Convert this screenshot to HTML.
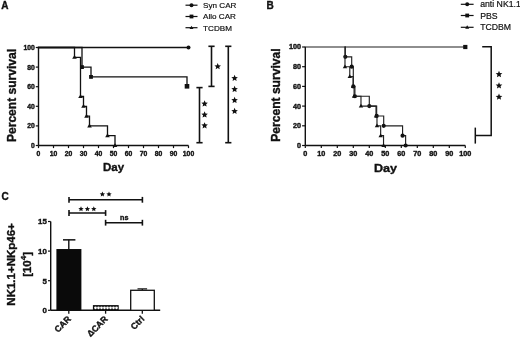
<!DOCTYPE html>
<html><head><meta charset="utf-8"><style>
html,body{margin:0;padding:0;background:#fff;}
body{width:520px;height:338px;overflow:hidden;}
svg{display:block;filter:blur(0.3px);}
text{font-family:"Liberation Sans", sans-serif;fill:#111;stroke:#111;stroke-width:0.36px;} text[font-weight=normal]{stroke-width:0.2px;}
</style></head><body>
<svg width="520" height="338" viewBox="0 0 520 338">
<rect width="520" height="338" fill="#fff"/>
<line x1="38.5" y1="145.5" x2="188.5" y2="145.5" stroke="#111" stroke-width="1.4"/>
<line x1="38.5" y1="145.5" x2="38.5" y2="47.5" stroke="#111" stroke-width="1.4"/>
<line x1="35.8" y1="145.5" x2="38.5" y2="145.5" stroke="#111" stroke-width="1.2"/>
<text font-size="6.8" font-weight="bold" text-anchor="end" transform="translate(34.8,147.9) scale(1.0,1)">0</text>
<line x1="35.8" y1="125.9" x2="38.5" y2="125.9" stroke="#111" stroke-width="1.2"/>
<text font-size="6.8" font-weight="bold" text-anchor="end" transform="translate(34.8,128.3) scale(1.0,1)">20</text>
<line x1="35.8" y1="106.3" x2="38.5" y2="106.3" stroke="#111" stroke-width="1.2"/>
<text font-size="6.8" font-weight="bold" text-anchor="end" transform="translate(34.8,108.7) scale(1.0,1)">40</text>
<line x1="35.8" y1="86.7" x2="38.5" y2="86.7" stroke="#111" stroke-width="1.2"/>
<text font-size="6.8" font-weight="bold" text-anchor="end" transform="translate(34.8,89.1) scale(1.0,1)">60</text>
<line x1="35.8" y1="67.1" x2="38.5" y2="67.1" stroke="#111" stroke-width="1.2"/>
<text font-size="6.8" font-weight="bold" text-anchor="end" transform="translate(34.8,69.5) scale(1.0,1)">80</text>
<line x1="35.8" y1="47.5" x2="38.5" y2="47.5" stroke="#111" stroke-width="1.2"/>
<text font-size="6.8" font-weight="bold" text-anchor="end" transform="translate(34.8,49.9) scale(1.0,1)">100</text>
<line x1="38.5" y1="145.5" x2="38.5" y2="148.1" stroke="#111" stroke-width="1.2"/>
<text font-size="6.8" font-weight="bold" text-anchor="middle" transform="translate(38.5,155.6) scale(1.0,1)">0</text>
<line x1="53.5" y1="145.5" x2="53.5" y2="148.1" stroke="#111" stroke-width="1.2"/>
<text font-size="6.8" font-weight="bold" text-anchor="middle" transform="translate(53.5,155.6) scale(1.0,1)">10</text>
<line x1="68.5" y1="145.5" x2="68.5" y2="148.1" stroke="#111" stroke-width="1.2"/>
<text font-size="6.8" font-weight="bold" text-anchor="middle" transform="translate(68.5,155.6) scale(1.0,1)">20</text>
<line x1="83.5" y1="145.5" x2="83.5" y2="148.1" stroke="#111" stroke-width="1.2"/>
<text font-size="6.8" font-weight="bold" text-anchor="middle" transform="translate(83.5,155.6) scale(1.0,1)">30</text>
<line x1="98.5" y1="145.5" x2="98.5" y2="148.1" stroke="#111" stroke-width="1.2"/>
<text font-size="6.8" font-weight="bold" text-anchor="middle" transform="translate(98.5,155.6) scale(1.0,1)">40</text>
<line x1="113.5" y1="145.5" x2="113.5" y2="148.1" stroke="#111" stroke-width="1.2"/>
<text font-size="6.8" font-weight="bold" text-anchor="middle" transform="translate(113.5,155.6) scale(1.0,1)">50</text>
<line x1="128.5" y1="145.5" x2="128.5" y2="148.1" stroke="#111" stroke-width="1.2"/>
<text font-size="6.8" font-weight="bold" text-anchor="middle" transform="translate(128.5,155.6) scale(1.0,1)">60</text>
<line x1="143.5" y1="145.5" x2="143.5" y2="148.1" stroke="#111" stroke-width="1.2"/>
<text font-size="6.8" font-weight="bold" text-anchor="middle" transform="translate(143.5,155.6) scale(1.0,1)">70</text>
<line x1="158.5" y1="145.5" x2="158.5" y2="148.1" stroke="#111" stroke-width="1.2"/>
<text font-size="6.8" font-weight="bold" text-anchor="middle" transform="translate(158.5,155.6) scale(1.0,1)">80</text>
<line x1="173.5" y1="145.5" x2="173.5" y2="148.1" stroke="#111" stroke-width="1.2"/>
<text font-size="6.8" font-weight="bold" text-anchor="middle" transform="translate(173.5,155.6) scale(1.0,1)">90</text>
<line x1="188.5" y1="145.5" x2="188.5" y2="148.1" stroke="#111" stroke-width="1.2"/>
<text font-size="6.8" font-weight="bold" text-anchor="middle" transform="translate(188.5,155.6) scale(1.0,1)">100</text>
<polyline points="38.5,47.5 188.5,47.5" fill="none" stroke="#111" stroke-width="1.3" stroke-linejoin="miter" stroke-linecap="square"/>
<circle cx="188.5" cy="47.5" r="2.0" fill="#111"/>
<polyline points="38.5,47.5 82,47.5 82,67.1 91,67.1 91,76.9 187,76.9 187,86.7" fill="none" stroke="#111" stroke-width="1.3" stroke-linejoin="miter" stroke-linecap="square"/>
<rect x="80.1" y="65.2" width="3.8" height="3.8" fill="#111"/>
<rect x="89.1" y="75" width="3.8" height="3.8" fill="#111"/>
<rect x="184.7" y="84" width="4.6" height="4.6" fill="#111"/>
<polyline points="38.5,47.5 74.5,47.5 74.5,57.3 80.5,57.3 80.5,96.5 83.5,96.5 83.5,106.3 86.5,106.3 86.5,116.1 89.5,116.1 89.5,125.9 107.5,125.9 107.5,135.7 115,135.7 115,145.5" fill="none" stroke="#111" stroke-width="1.3" stroke-linejoin="miter" stroke-linecap="square"/>
<polygon points="74.5,54.95 72.2,58.86 76.8,58.86" fill="#111"/>
<polygon points="80.5,94.15 78.2,98.06 82.8,98.06" fill="#111"/>
<polygon points="83.5,103.95 81.2,107.86 85.8,107.86" fill="#111"/>
<polygon points="86.5,113.75 84.2,117.66 88.8,117.66" fill="#111"/>
<polygon points="89.5,123.55 87.2,127.46 91.8,127.46" fill="#111"/>
<polygon points="107.5,133.35 105.2,137.26 109.8,137.26" fill="#111"/>
<polygon points="115,143.15 112.7,147.06 117.3,147.06" fill="#111"/>
<text x="113.5" y="170.8" font-size="11.5" font-weight="bold" text-anchor="middle" >Day</text>
<text x="0" y="0" font-size="12.05" font-weight="bold" text-anchor="middle" transform="translate(16.3,95.5) rotate(-90)">Percent survival</text>
<text x="1.2" y="8.6" font-size="10" font-weight="bold" text-anchor="start" >A</text>
<line x1="185.5" y1="5.2" x2="197.5" y2="5.2" stroke="#111" stroke-width="1.2"/>
<circle cx="191.5" cy="5.2" r="2.0" fill="#111"/>
<text x="203.1" y="8.1" font-size="8.1" font-weight="normal" text-anchor="start" >Syn CAR</text>
<line x1="185.5" y1="16.5" x2="197.5" y2="16.5" stroke="#111" stroke-width="1.2"/>
<rect x="189.6" y="14.6" width="3.8" height="3.8" fill="#111"/>
<text x="203.1" y="19.4" font-size="8.1" font-weight="normal" text-anchor="start" >Allo CAR</text>
<line x1="185.5" y1="27.7" x2="197.5" y2="27.7" stroke="#111" stroke-width="1.2"/>
<polygon points="191.5,25.66 189.5,29.06 193.5,29.06" fill="#111"/>
<text x="203.1" y="30.6" font-size="8.1" font-weight="normal" text-anchor="start" >TCDBM</text>
<line x1="211.5" y1="46.3" x2="211.5" y2="86.4" stroke="#111" stroke-width="1.6"/>
<line x1="208.4" y1="46.3" x2="214.6" y2="46.3" stroke="#111" stroke-width="1.6"/>
<line x1="208.4" y1="86.4" x2="214.6" y2="86.4" stroke="#111" stroke-width="1.6"/>
<polygon points="217.7,63.05 218.63,65.22 220.98,65.43 219.21,66.99 219.73,69.29 217.7,68.09 215.67,69.29 216.19,66.99 214.42,65.43 216.77,65.22" fill="#111"/>
<line x1="228.3" y1="46.3" x2="228.3" y2="142.7" stroke="#111" stroke-width="1.6"/>
<line x1="225.2" y1="46.3" x2="231.4" y2="46.3" stroke="#111" stroke-width="1.6"/>
<line x1="225.2" y1="142.7" x2="231.4" y2="142.7" stroke="#111" stroke-width="1.6"/>
<polygon points="234.6,74.75 235.53,76.92 237.88,77.13 236.11,78.69 236.63,80.99 234.6,79.79 232.57,80.99 233.09,78.69 231.32,77.13 233.67,76.92" fill="#111"/>
<polygon points="234.6,85.85 235.53,88.02 237.88,88.23 236.11,89.79 236.63,92.09 234.6,90.89 232.57,92.09 233.09,89.79 231.32,88.23 233.67,88.02" fill="#111"/>
<polygon points="234.6,96.85 235.53,99.02 237.88,99.23 236.11,100.79 236.63,103.09 234.6,101.89 232.57,103.09 233.09,100.79 231.32,99.23 233.67,99.02" fill="#111"/>
<polygon points="234.6,107.75 235.53,109.92 237.88,110.13 236.11,111.69 236.63,113.99 234.6,112.79 232.57,113.99 233.09,111.69 231.32,110.13 233.67,109.92" fill="#111"/>
<line x1="199.5" y1="87.6" x2="199.5" y2="142.7" stroke="#111" stroke-width="1.6"/>
<line x1="196.4" y1="87.6" x2="202.6" y2="87.6" stroke="#111" stroke-width="1.6"/>
<line x1="196.4" y1="142.7" x2="202.6" y2="142.7" stroke="#111" stroke-width="1.6"/>
<polygon points="204.6,100.35 205.53,102.52 207.88,102.73 206.11,104.29 206.63,106.59 204.6,105.39 202.57,106.59 203.09,104.29 201.32,102.73 203.67,102.52" fill="#111"/>
<polygon points="204.6,111.35 205.53,113.52 207.88,113.73 206.11,115.29 206.63,117.59 204.6,116.39 202.57,117.59 203.09,115.29 201.32,113.73 203.67,113.52" fill="#111"/>
<polygon points="204.6,122.15 205.53,124.32 207.88,124.53 206.11,126.09 206.63,128.39 204.6,127.19 202.57,128.39 203.09,126.09 201.32,124.53 203.67,124.32" fill="#111"/>
<line x1="305.3" y1="145.5" x2="465.3" y2="145.5" stroke="#111" stroke-width="1.4"/>
<line x1="305.3" y1="145.5" x2="305.3" y2="47" stroke="#111" stroke-width="1.4"/>
<line x1="302.1" y1="145.5" x2="305.3" y2="145.5" stroke="#111" stroke-width="1.2"/>
<text font-size="6.8" font-weight="bold" text-anchor="end" transform="translate(301,147.9) scale(1.067,1)">0</text>
<line x1="302.1" y1="125.8" x2="305.3" y2="125.8" stroke="#111" stroke-width="1.2"/>
<text font-size="6.8" font-weight="bold" text-anchor="end" transform="translate(301,128.2) scale(1.067,1)">20</text>
<line x1="302.1" y1="106.1" x2="305.3" y2="106.1" stroke="#111" stroke-width="1.2"/>
<text font-size="6.8" font-weight="bold" text-anchor="end" transform="translate(301,108.5) scale(1.067,1)">40</text>
<line x1="302.1" y1="86.4" x2="305.3" y2="86.4" stroke="#111" stroke-width="1.2"/>
<text font-size="6.8" font-weight="bold" text-anchor="end" transform="translate(301,88.8) scale(1.067,1)">60</text>
<line x1="302.1" y1="66.7" x2="305.3" y2="66.7" stroke="#111" stroke-width="1.2"/>
<text font-size="6.8" font-weight="bold" text-anchor="end" transform="translate(301,69.1) scale(1.067,1)">80</text>
<line x1="302.1" y1="47" x2="305.3" y2="47" stroke="#111" stroke-width="1.2"/>
<text font-size="6.8" font-weight="bold" text-anchor="end" transform="translate(301,49.4) scale(1.067,1)">100</text>
<line x1="305.3" y1="145.5" x2="305.3" y2="148.1" stroke="#111" stroke-width="1.2"/>
<text font-size="6.8" font-weight="bold" text-anchor="middle" transform="translate(305.3,156) scale(1.067,1)">0</text>
<line x1="321.3" y1="145.5" x2="321.3" y2="148.1" stroke="#111" stroke-width="1.2"/>
<text font-size="6.8" font-weight="bold" text-anchor="middle" transform="translate(321.3,156) scale(1.067,1)">10</text>
<line x1="337.3" y1="145.5" x2="337.3" y2="148.1" stroke="#111" stroke-width="1.2"/>
<text font-size="6.8" font-weight="bold" text-anchor="middle" transform="translate(337.3,156) scale(1.067,1)">20</text>
<line x1="353.3" y1="145.5" x2="353.3" y2="148.1" stroke="#111" stroke-width="1.2"/>
<text font-size="6.8" font-weight="bold" text-anchor="middle" transform="translate(353.3,156) scale(1.067,1)">30</text>
<line x1="369.3" y1="145.5" x2="369.3" y2="148.1" stroke="#111" stroke-width="1.2"/>
<text font-size="6.8" font-weight="bold" text-anchor="middle" transform="translate(369.3,156) scale(1.067,1)">40</text>
<line x1="385.3" y1="145.5" x2="385.3" y2="148.1" stroke="#111" stroke-width="1.2"/>
<text font-size="6.8" font-weight="bold" text-anchor="middle" transform="translate(385.3,156) scale(1.067,1)">50</text>
<line x1="401.3" y1="145.5" x2="401.3" y2="148.1" stroke="#111" stroke-width="1.2"/>
<text font-size="6.8" font-weight="bold" text-anchor="middle" transform="translate(401.3,156) scale(1.067,1)">60</text>
<line x1="417.3" y1="145.5" x2="417.3" y2="148.1" stroke="#111" stroke-width="1.2"/>
<text font-size="6.8" font-weight="bold" text-anchor="middle" transform="translate(417.3,156) scale(1.067,1)">70</text>
<line x1="433.3" y1="145.5" x2="433.3" y2="148.1" stroke="#111" stroke-width="1.2"/>
<text font-size="6.8" font-weight="bold" text-anchor="middle" transform="translate(433.3,156) scale(1.067,1)">80</text>
<line x1="449.3" y1="145.5" x2="449.3" y2="148.1" stroke="#111" stroke-width="1.2"/>
<text font-size="6.8" font-weight="bold" text-anchor="middle" transform="translate(449.3,156) scale(1.067,1)">90</text>
<line x1="465.3" y1="145.5" x2="465.3" y2="148.1" stroke="#111" stroke-width="1.2"/>
<text font-size="6.8" font-weight="bold" text-anchor="middle" transform="translate(465.3,156) scale(1.067,1)">100</text>
<polyline points="305.3,47 465.3,47" fill="none" stroke="#1e1e1e" stroke-width="1.15" stroke-linejoin="miter" stroke-linecap="square"/>
<rect x="463.2" y="44.9" width="4.2" height="4.2" fill="#111"/>
<polyline points="345.3,47 345.3,56.85 351.7,56.85 351.7,66.7 353.3,66.7 353.3,86.4 354.9,86.4 354.9,96.25 369.3,96.25 369.3,106.1 376.66,106.1 376.66,115.95 383.7,115.95 383.7,125.8 402.58,125.8 402.58,135.65 405.62,135.65 405.62,145.5" fill="none" stroke="#222" stroke-width="1.15" stroke-linejoin="miter" stroke-linecap="square"/>
<circle cx="345.3" cy="56.85" r="2.1" fill="#111"/>
<circle cx="351.7" cy="66.7" r="2.1" fill="#111"/>
<circle cx="353.3" cy="86.4" r="2.1" fill="#111"/>
<circle cx="354.9" cy="96.25" r="2.1" fill="#111"/>
<circle cx="369.3" cy="106.1" r="2.1" fill="#111"/>
<circle cx="376.66" cy="115.95" r="2.1" fill="#111"/>
<circle cx="383.7" cy="125.8" r="2.1" fill="#111"/>
<circle cx="402.58" cy="135.65" r="2.1" fill="#111"/>
<circle cx="405.62" cy="145.5" r="2.1" fill="#111"/>
<polyline points="344.98,47 344.98,66.7 349.78,66.7 349.78,76.55 353.14,76.55 353.14,86.4 354.1,86.4 354.1,96.25 360.98,96.25 360.98,106.1 376.02,106.1 376.02,115.95 376.98,115.95 376.98,125.8 380.66,125.8 380.66,135.65 383.54,135.65 383.54,145.5" fill="none" stroke="#222" stroke-width="1.15" stroke-linejoin="miter" stroke-linecap="square"/>
<polygon points="344.98,64.46 342.78,68.2 347.18,68.2" fill="#111"/>
<polygon points="349.78,74.31 347.58,78.05 351.98,78.05" fill="#111"/>
<polygon points="353.14,84.16 350.94,87.9 355.34,87.9" fill="#111"/>
<polygon points="354.1,94.01 351.9,97.75 356.3,97.75" fill="#111"/>
<polygon points="360.98,103.86 358.78,107.6 363.18,107.6" fill="#111"/>
<polygon points="376.02,113.71 373.82,117.45 378.22,117.45" fill="#111"/>
<polygon points="376.98,123.56 374.78,127.3 379.18,127.3" fill="#111"/>
<polygon points="380.66,133.41 378.46,137.15 382.86,137.15" fill="#111"/>
<polygon points="383.54,143.26 381.34,147 385.74,147" fill="#111"/>
<text font-size="11.8" font-weight="bold" text-anchor="middle" transform="translate(385.5,171.8) scale(1.067,1)">Day</text>
<text font-size="12.1" font-weight="bold" text-anchor="middle" transform="translate(280.2,95.1) scale(1.067,1) rotate(-90)">Percent survival</text>
<text x="266.4" y="8.8" font-size="10" font-weight="bold" text-anchor="start" >B</text>
<line x1="460.8" y1="4.3" x2="473.6" y2="4.3" stroke="#111" stroke-width="1.2"/>
<circle cx="467.2" cy="4.3" r="2.0" fill="#111"/>
<text font-size="8.7" font-weight="normal" text-anchor="start" transform="translate(480.2,7.4) scale(1.0,1)">anti NK1.1</text>
<line x1="460.8" y1="15.5" x2="473.6" y2="15.5" stroke="#111" stroke-width="1.2"/>
<rect x="465.3" y="13.6" width="3.8" height="3.8" fill="#111"/>
<text font-size="8.7" font-weight="normal" text-anchor="start" transform="translate(480.2,18.6) scale(1.0,1)">PBS</text>
<line x1="460.8" y1="27.3" x2="473.6" y2="27.3" stroke="#111" stroke-width="1.2"/>
<polygon points="467.2,25.26 465.2,28.66 469.2,28.66" fill="#111"/>
<text font-size="8.7" font-weight="normal" text-anchor="start" transform="translate(480.2,30.4) scale(1.0,1)">TCDBM</text>
<polyline points="482.2,46.7 491.2,46.7 491.2,135.6 475.3,135.6" fill="none" stroke="#111" stroke-width="1.5"/>
<line x1="475.3" y1="127.6" x2="475.3" y2="143.6" stroke="#111" stroke-width="1.5"/>
<polygon points="499,70.8 499.95,73 502.33,73.22 500.53,74.8 501.06,77.13 499,75.91 496.94,77.13 497.47,74.8 495.67,73.22 498.05,73" fill="#111"/>
<polygon points="499,82.2 499.95,84.4 502.33,84.62 500.53,86.2 501.06,88.53 499,87.31 496.94,88.53 497.47,86.2 495.67,84.62 498.05,84.4" fill="#111"/>
<polygon points="499,93.5 499.95,95.7 502.33,95.92 500.53,97.5 501.06,99.83 499,98.61 496.94,99.83 497.47,97.5 495.67,95.92 498.05,95.7" fill="#111"/>
<line x1="50.7" y1="310.3" x2="160.2" y2="310.3" stroke="#111" stroke-width="1.4"/>
<line x1="50.7" y1="310.3" x2="50.7" y2="221.5" stroke="#111" stroke-width="1.4"/>
<line x1="48" y1="310.3" x2="50.7" y2="310.3" stroke="#111" stroke-width="1.2"/>
<text x="46.8" y="313.1" font-size="7.9" font-weight="bold" text-anchor="end" >0</text>
<line x1="48" y1="280.7" x2="50.7" y2="280.7" stroke="#111" stroke-width="1.2"/>
<text x="46.8" y="283.5" font-size="7.9" font-weight="bold" text-anchor="end" >5</text>
<line x1="48" y1="251.1" x2="50.7" y2="251.1" stroke="#111" stroke-width="1.2"/>
<text x="46.8" y="253.9" font-size="7.9" font-weight="bold" text-anchor="end" >10</text>
<line x1="48" y1="221.5" x2="50.7" y2="221.5" stroke="#111" stroke-width="1.2"/>
<text x="46.8" y="224.3" font-size="7.9" font-weight="bold" text-anchor="end" >15</text>
<line x1="68.8" y1="310.3" x2="68.8" y2="313.7" stroke="#111" stroke-width="1.3"/>
<line x1="105.6" y1="310.3" x2="105.6" y2="313.7" stroke="#111" stroke-width="1.3"/>
<line x1="142.3" y1="310.3" x2="142.3" y2="313.7" stroke="#111" stroke-width="1.3"/>
<line x1="68.8" y1="249.03" x2="68.8" y2="239.85" stroke="#111" stroke-width="1.4"/>
<line x1="63" y1="239.85" x2="75.4" y2="239.85" stroke="#111" stroke-width="1.5"/>
<rect x="56.4" y="249.03" width="25" height="61.27" fill="#0a0a0a"/>
<rect x="93.5" y="305.7" width="24.6" height="4.6" fill="#111" stroke="#111" stroke-width="1.2"/>
<circle cx="95.5" cy="307.8" r="1.35" fill="#fff"/>
<circle cx="98.5" cy="307.8" r="1.35" fill="#fff"/>
<circle cx="101.5" cy="307.8" r="1.35" fill="#fff"/>
<circle cx="104.5" cy="307.8" r="1.35" fill="#fff"/>
<circle cx="107.5" cy="307.8" r="1.35" fill="#fff"/>
<circle cx="110.5" cy="307.8" r="1.35" fill="#fff"/>
<circle cx="113.5" cy="307.8" r="1.35" fill="#fff"/>
<circle cx="116.5" cy="307.8" r="1.35" fill="#fff"/>
<line x1="142.3" y1="290.17" x2="142.3" y2="288.99" stroke="#111" stroke-width="1.2"/>
<line x1="137.5" y1="288.87" x2="147.1" y2="288.87" stroke="#111" stroke-width="1.2"/>
<rect x="130.7" y="290.29" width="23.6" height="20.01" fill="#fff" stroke="#111" stroke-width="1.3"/>
<text font-size="8.7" font-weight="bold" text-anchor="end" transform="translate(71.4,319.6) rotate(-45)">CAR</text>
<text font-size="8.7" font-weight="bold" text-anchor="end" transform="translate(108.2,319.6) rotate(-45)">&#916;CAR</text>
<text font-size="8.7" font-weight="bold" text-anchor="end" transform="translate(144.9,319.6) rotate(-45)">Ctrl</text>
<text x="0" y="0" font-size="11.5" font-weight="bold" text-anchor="middle" transform="translate(14.9,264.4) rotate(-90)">NK1.1+NKp46+</text>
<text font-size="11.5" font-weight="bold" text-anchor="middle" transform="translate(30.6,264.4) rotate(-90)">[10<tspan font-size="8" dy="-4.2">4</tspan><tspan dy="4.2">]</tspan></text>
<text x="1.6" y="199.9" font-size="10" font-weight="bold" text-anchor="start" >C</text>
<line x1="69" y1="199.8" x2="142.4" y2="199.8" stroke="#111" stroke-width="1.6"/>
<line x1="69" y1="196.9" x2="69" y2="202.7" stroke="#111" stroke-width="1.6"/>
<line x1="142.4" y1="196.9" x2="142.4" y2="202.7" stroke="#111" stroke-width="1.6"/>
<polygon points="102.4,191.5 103.16,193.26 105.06,193.43 103.62,194.7 104.05,196.57 102.4,195.59 100.75,196.57 101.18,194.7 99.74,193.43 101.64,193.26" fill="#111"/>
<polygon points="109,191.5 109.76,193.26 111.66,193.43 110.22,194.7 110.65,196.57 109,195.59 107.35,196.57 107.78,194.7 106.34,193.43 108.24,193.26" fill="#111"/>
<line x1="69" y1="213" x2="105.6" y2="213" stroke="#111" stroke-width="1.6"/>
<line x1="69" y1="210.1" x2="69" y2="215.9" stroke="#111" stroke-width="1.6"/>
<line x1="105.6" y1="210.1" x2="105.6" y2="215.9" stroke="#111" stroke-width="1.6"/>
<polygon points="81,206.2 81.76,207.96 83.66,208.13 82.22,209.4 82.65,211.27 81,210.29 79.35,211.27 79.78,209.4 78.34,208.13 80.24,207.96" fill="#111"/>
<polygon points="87.4,206.2 88.16,207.96 90.06,208.13 88.62,209.4 89.05,211.27 87.4,210.29 85.75,211.27 86.18,209.4 84.74,208.13 86.64,207.96" fill="#111"/>
<polygon points="93.8,206.2 94.56,207.96 96.46,208.13 95.02,209.4 95.45,211.27 93.8,210.29 92.15,211.27 92.58,209.4 91.14,208.13 93.04,207.96" fill="#111"/>
<line x1="105.6" y1="222.7" x2="142.4" y2="222.7" stroke="#111" stroke-width="1.6"/>
<line x1="105.6" y1="219.8" x2="105.6" y2="225.6" stroke="#111" stroke-width="1.6"/>
<line x1="142.4" y1="219.8" x2="142.4" y2="225.6" stroke="#111" stroke-width="1.6"/>
<text x="124.2" y="219.6" font-size="7.2" font-weight="bold" text-anchor="middle" >ns</text>
</svg>
</body></html>
